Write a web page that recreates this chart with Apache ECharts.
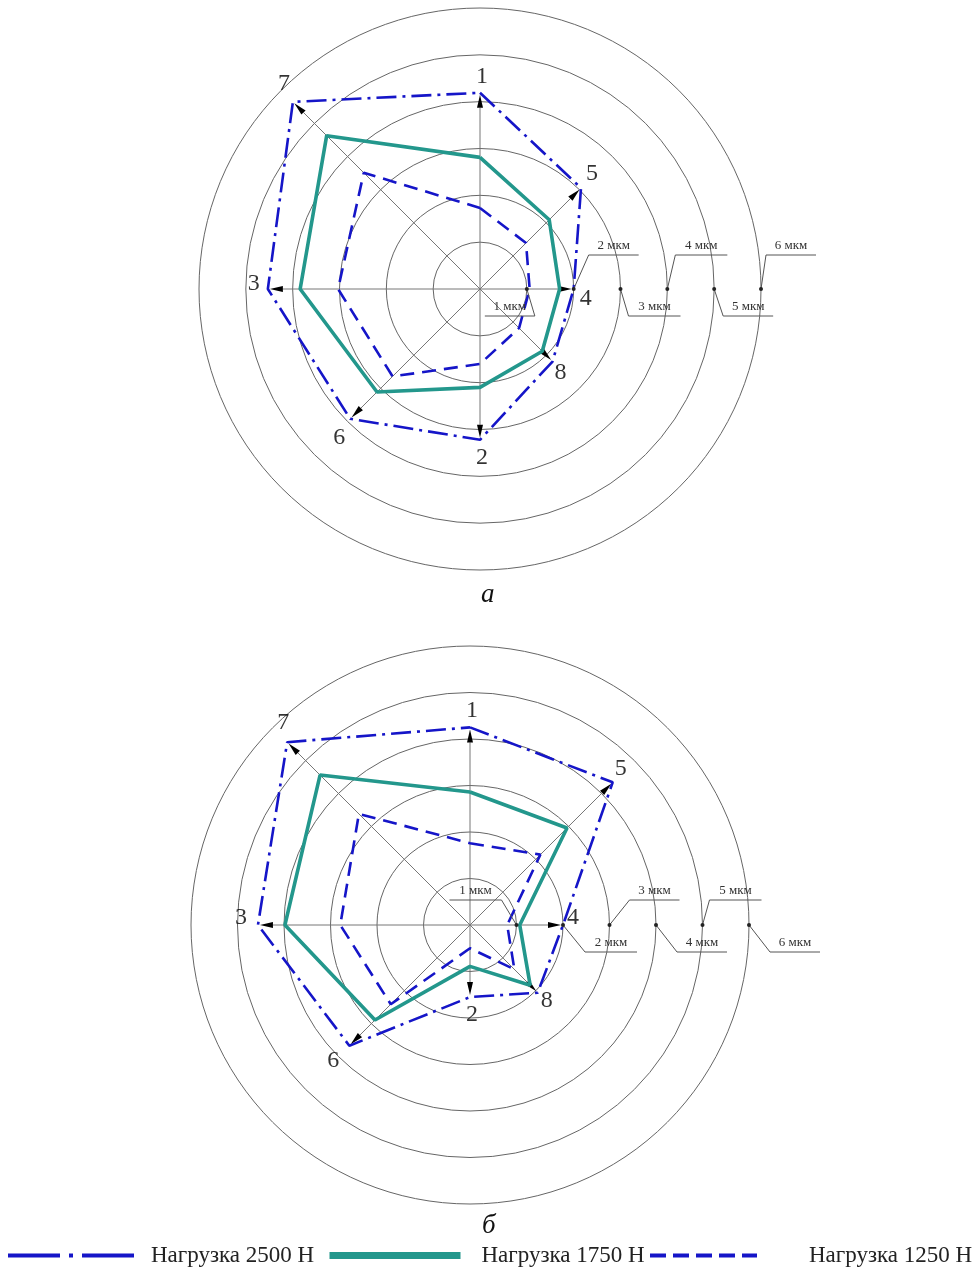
<!DOCTYPE html>
<html><head><meta charset="utf-8">
<script src="https://cdn.jsdelivr.net/npm/echarts@6/dist/echarts.min.js"></script>
<style>html,body{margin:0;padding:0;background:#fff}#c{width:973px;height:1268px}</style>
</head><body><div id="c"></div>
<script>
// ---- data ----
const directions = ['1','5','4','8','2','6','3','7'];
const directionAngles = [90,45,0,315,270,225,180,135];
const seriesNames = ['Нагрузка 2500 Н','Нагрузка 1750 Н','Нагрузка 1250 Н'];
const radiusTicks = [1,2,3,4,5,6];
const tickUnit = 'мкм';
const panelLetters = ['а','б'];
// chart а
const a2500 = [4.19,3.05,2.0,2.19,3.22,3.92,4.53,5.65];
const a1750 = [2.81,2.09,1.7,1.88,2.1,3.11,3.84,4.63];
const a1250 = [1.73,1.39,1.06,1.18,1.6,2.64,3.03,3.51];
// chart б
const b2500 = [4.25,4.34,2.0,2.06,1.55,3.67,4.56,5.56];
const b1750 = [2.86,2.95,1.07,1.83,0.89,2.89,3.98,4.56];
const b1250 = [1.76,2.14,0.8,1.35,0.5,2.41,2.79,3.38];

// ---- styles ----
const BLUE = '#1515c8', TEAL = '#23978c';
const FONT = '"Liberation Serif", "Times New Roman", serif';
const lineStyles = [
  {color: BLUE, width: 2.6, type: [20, 6, 3, 6]},
  {color: TEAL, width: 3.6, type: 'solid'},
  {color: BLUE, width: 2.6, type: [14, 8]}
];
const labelOffsets = [
  [[2,-16],[11,-14],[12,10],[8,11],[2,18],[-11,19],[-14,-5],[-9,-18]],
  [[2,-17],[8,-14],[10,-7],[9,8],[2,18],[-16,15],[-17,-7],[-4,-19]]
];
const calloutLayouts = [
  [{dx:8,dy:27,len:-50},{dx:15,dy:-34,len:50},{dx:8,dy:27,len:52},{dx:8,dy:-34,len:52},{dx:9,dy:27,len:50},{dx:5,dy:-34,len:50}],
  [{dx:-15,dy:-25,len:-52},{dx:22,dy:27,len:52},{dx:20,dy:-25,len:50},{dx:21,dy:27,len:50},{dx:7,dy:-25,len:52},{dx:21,dy:27,len:50}]
];
const hiddenSymbol = {color: 'rgba(0,0,0,0)', borderWidth: 0, opacity: 0};

function toPolar(values, close) {
  const d = values.map((v, i) => [v, directionAngles[i]]);
  if (close) d.push([values[0], directionAngles[0]]);
  return d;
}

function lineSeries(pi, k, values) {
  return {
    type: 'line', name: seriesNames[k], coordinateSystem: 'polar', polarIndex: pi,
    data: toPolar(values, true), symbol: 'none', smooth: false, silent: true,
    lineStyle: lineStyles[k], itemStyle: {color: lineStyles[k].color}, z: 4 - k * 0.1
  };
}

function spokeSeries(pi, values) {
  return {
    type: 'custom', coordinateSystem: 'polar', polarIndex: pi, silent: true, z: 2,
    data: toPolar(values, false),
    renderItem(params, api) {
      const end = api.coord([api.value(0), api.value(1)]);
      const c = api.coord([0, api.value(1)]);
      const ang = Math.atan2(end[1] - c[1], end[0] - c[0]);
      const ux = Math.cos(ang), uy = Math.sin(ang);
      const tx = end[0] - ux * 2, ty = end[1] - uy * 2;
      const L = 13, W = 3;
      const bx = tx - ux * L, by = ty - uy * L;
      return {type: 'group', children: [
        {type: 'line', shape: {x1: c[0], y1: c[1], x2: bx, y2: by}, style: {stroke: '#777', lineWidth: 1}},
        {type: 'polygon', shape: {points: [[tx, ty], [bx - uy * W, by + ux * W], [bx + uy * W, by - ux * W]]}, style: {fill: '#000'}}
      ]};
    }
  };
}

function labelSeries(pi, values) {
  return {
    type: 'scatter', coordinateSystem: 'polar', polarIndex: pi, silent: true, z: 6,
    symbolSize: 1, itemStyle: {color: 'rgba(0,0,0,0)'},
    data: values.map((v, i) => ({
      value: [v, directionAngles[i]],
      label: {show: true, position: 'inside', offset: labelOffsets[pi][i], formatter: directions[i],
        fontFamily: FONT, fontSize: 24, color: '#000'}
    }))
  };
}

function calloutSeries(pi) {
  return {
    type: 'custom', coordinateSystem: 'polar', polarIndex: pi, silent: true, z: 5,
    data: radiusTicks.map(t => [t, 0]),
    renderItem(params, api) {
      const p = api.coord([api.value(0), 0]);
      const L = calloutLayouts[pi][params.dataIndex];
      const kx = p[0] + L.dx, ky = p[1] + L.dy, ex = kx + L.len;
      return {type: 'group', children: [
        {type: 'line', shape: {x1: p[0], y1: p[1], x2: kx, y2: ky}, style: {stroke: '#555', lineWidth: 1}},
        {type: 'line', shape: {x1: kx, y1: ky, x2: ex, y2: ky}, style: {stroke: '#555', lineWidth: 1}},
        {type: 'circle', shape: {cx: p[0], cy: p[1], r: 2}, style: {fill: '#222'}},
        {type: 'text', style: {text: radiusTicks[params.dataIndex] + ' ' + tickUnit, x: (kx + ex) / 2, y: ky - 3,
          align: 'center', verticalAlign: 'bottom', font: '13px ' + FONT, fill: '#333'}}
      ]};
    }
  };
}

const polarCenters = [[480, 289], [470, 925]];
const polarRadii = [281, 279];
const legendText = {fontFamily: FONT, fontSize: 23, color: '#222'};

const option = {
  animation: false,
  backgroundColor: '#fff',
  polar: [0, 1].map(i => ({center: polarCenters[i], radius: polarRadii[i]})),
  angleAxis: [0, 1].map(i => ({polarIndex: i, type: 'value', min: 0, max: 360, startAngle: 0, clockwise: false,
    axisLine: {show: false}, axisTick: {show: false}, axisLabel: {show: false}, splitLine: {show: false}})),
  radiusAxis: [0, 1].map(i => ({polarIndex: i, type: 'value', min: 0, max: 6, interval: 1,
    axisLine: {show: false}, axisTick: {show: false}, axisLabel: {show: false},
    splitLine: {show: true, lineStyle: {color: '#666', width: 1}}})),
  title: [
    {text: panelLetters[0], left: 481, top: 581, padding: 0, textStyle: {fontFamily: FONT, fontStyle: 'italic', fontWeight: 'normal', fontSize: 27, color: '#111'}},
    {text: panelLetters[1], left: 482, top: 1212, padding: 0, textStyle: {fontFamily: FONT, fontStyle: 'italic', fontWeight: 'normal', fontSize: 27, color: '#111'}}
  ],
  legend: [
    {left: 6, top: 1244, itemWidth: 134, itemHeight: 14, padding: 0, selectedMode: false,
      data: [{name: seriesNames[0], lineStyle: {type: [52, 9, 4, 9], width: 4, color: BLUE}, itemStyle: hiddenSymbol}],
      textStyle: Object.assign({padding: [0, 0, 0, 4]}, legendText)},
    {left: 326, top: 1244, itemWidth: 131, itemHeight: 14, padding: 0, selectedMode: false,
      data: [{name: seriesNames[1], lineStyle: {width: 7, color: TEAL}, itemStyle: hiddenSymbol}],
      textStyle: Object.assign({padding: [0, 0, 0, 16]}, legendText)},
    {left: 648, top: 1244, itemWidth: 107, itemHeight: 14, padding: 0, selectedMode: false,
      data: [{name: seriesNames[2], lineStyle: {type: [16, 7], width: 4, color: BLUE}, itemStyle: hiddenSymbol}],
      textStyle: Object.assign({padding: [0, 0, 0, 47]}, legendText)}
  ],
  series: [
    spokeSeries(0, a2500), spokeSeries(1, b2500),
    lineSeries(0, 0, a2500), lineSeries(0, 1, a1750), lineSeries(0, 2, a1250),
    lineSeries(1, 0, b2500), lineSeries(1, 1, b1750), lineSeries(1, 2, b1250),
    labelSeries(0, a2500), labelSeries(1, b2500),
    calloutSeries(0), calloutSeries(1)
  ]
};
const chart = echarts.init(document.getElementById('c'), null, {renderer: 'canvas'});
chart.setOption(option);
</script></body></html>
